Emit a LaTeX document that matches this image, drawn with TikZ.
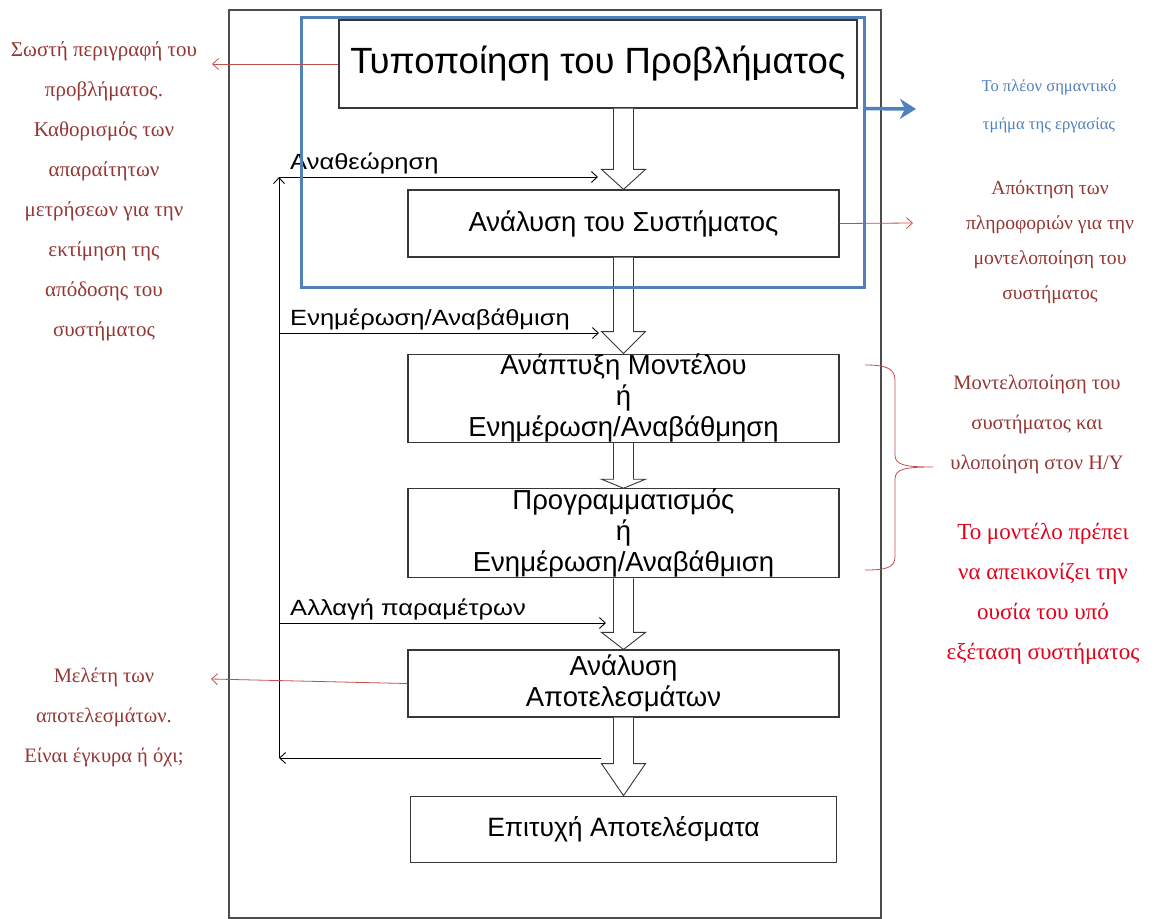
\documentclass[tikz,border=0pt]{standalone}
\usepackage{fontspec}
\setmainfont{Liberation Serif}
\setsansfont{Liberation Sans}
\usetikzlibrary{calc, positioning, arrows.meta}

\definecolor{noteRed}{RGB}{148,54,52}
\definecolor{noteLine}{RGB}{192,80,77}
\definecolor{noteBlue}{RGB}{79,129,189}
\definecolor{keyRed}{RGB}{226,0,26}
\definecolor{boxGray}{RGB}{55,55,55}

\begin{document}
\begin{tikzpicture}[
  x=1pt, y=-1pt,
  >={Straight Barb[length=6pt,width=11pt]},
  node distance=20pt
]
\tikzstyle{stage}=[draw=boxGray, line width=1.2pt, fill=white, inner sep=0pt, align=center, minimum width=431pt, font=\sffamily\fontsize{27.5}{31}\selectfont]
\tikzstyle{note}=[align=center, inner sep=0pt, text=noteRed, font=\rmfamily\fontsize{21}{40}\selectfont]
\tikzstyle{loopline}=[draw=black, line width=0.9pt]
\tikzstyle{pointer}=[draw=noteLine, line width=0.8pt, ->]
\tikzstyle{looplabel}=[anchor=south west, inner sep=0pt, xscale=1.16, font=\sffamily\fontsize{22}{24}\selectfont]
\tikzset{hollow/.style={draw=boxGray, fill=white, line width=0.9pt, to path={
  let \p1=(\tikztostart), \p2=(\tikztotarget) in
  (\x1-10pt,\y1) -- (\x1-10pt,\y2+#1) -- (\x1-22pt,\y2+#1) -- (\x2,\y2)
  -- (\x1+22pt,\y2+#1) -- (\x1+10pt,\y2+#1) -- (\x1+10pt,\y1)}},
  hollow/.default=20pt}

\useasboundingbox (0,0) rectangle (1163,919);

% ================= PAGE FRAME =================
\draw[draw=gray!60!black, line width=1.3pt] (229,10) rectangle (881,918);

% ================= STAGES =================
\node[stage, minimum width=518pt, minimum height=88pt, font=\sffamily\fontsize{36.5}{40}\selectfont] (S0) at (598,64) {Τυποποίηση του Προβλήματος};
\node[stage, minimum height=67pt] (S1) at (623.5,223.5) {Ανάλυση του Συστήματος};
\node[stage, minimum height=88pt] (S2) [below=96pt of S1] {Ανάπτυξη Μοντέλου\\ή\\Ενημέρωση/Αναβάθμηση};
\node[stage, minimum height=89pt] (S3) [below=45pt of S2] {Προγραμματισμός\\ή\\Ενημέρωση/Αναβάθμιση};
\node[stage, minimum height=67pt] (S4) [below=71pt of S3] {Ανάλυση\\Αποτελεσμάτων};
\node[stage, minimum width=426pt, minimum height=66pt, font=\sffamily\fontsize{26.5}{30}\selectfont] (S5) [below=78pt of S4] {Επιτυχή Αποτελέσματα};

% ===== Hollow flow arrows =====
\draw[hollow] (S1.north |- S0.south) to (S1.north);
\draw[hollow=22pt] (S1.south) to (S2.north);
\draw[hollow=9pt] (S2.south) to (S3.north);
\draw[hollow=17pt] (S3.south) to (S4.north);
\draw[hollow=32pt] (S4.south) to (S5.north);

% ===== Feedback loop =====
\coordinate (Ltop) at (279,177);
\coordinate (Lbot) at (279,758);
\coordinate (F1) at (598,177);
\coordinate (F2) at (279,333);
\coordinate (F2e) at (599,333);
\coordinate (F3) at (279,623);
\coordinate (F3e) at (606,623);
\coordinate (F4) at (601,758);

\draw[loopline, ->] (F4) -- (Lbot);
\draw[loopline, ->] (Lbot) -- (Ltop);
\draw[loopline, ->] (Ltop) -- (F1);
\draw[loopline, ->] (F2) -- (F2e);
\draw[loopline, ->] (F3) -- (F3e);

\node[looplabel] (T1) at (290,174) {Αναθεώρηση};
\node[looplabel] (T2) at (290,330) {Ενημέρωση/Αναβάθμιση};
\node[looplabel] (T3) at (290,620) {Αλλαγή παραμέτρων};

% ================= FOCUS FRAME =================
\node[draw=noteBlue, line width=3pt, minimum width=563pt, minimum height=270pt, inner sep=0pt] (focus) at (582.5,152) {};
\coordinate (blueTip) at (916,109);
\draw[noteBlue, line width=3.5pt, -{Stealth[length=16pt,width=20pt,inset=5pt]}] (focus.east |- S0.south) -- (blueTip);

% ================= NOTES =================
\coordinate (P0) at (212,64);
\coordinate (P1) at (913,223);
\coordinate (P4) at (211,679);
\draw[pointer] (S0.west) -- (P0);
\draw[pointer] (S1.east) -- (P1);
\draw[pointer] (S4.west) -- (P4);

\node[note] (N0) at (104,191) {Σωστή περιγραφή του\\προβλήματος.\\Καθορισμός των\\απαραίτητων\\μετρήσεων για την\\εκτίμηση της\\απόδοσης του\\συστήματος};
\node[note, text=noteBlue, font=\rmfamily\fontsize{16.6}{38}\selectfont] (N1) at (1049,106) {Το πλέον σημαντικό\\τμήμα της εργασίας};
\node[note, font=\rmfamily\fontsize{19.6}{35}\selectfont] (N2) at (1050,242) {Απόκτηση των\\πληροφοριών για την\\μοντελοποίηση του\\συστήματος};
\node[note, font=\rmfamily\fontsize{20.5}{40}\selectfont] (N3) at (1037,424) {Μοντελοποίηση του\\συστήματος και\\υλοποίηση στον H/Y};
\node[note, text=keyRed, font=\rmfamily\fontsize{23}{40}\selectfont] (N4) at (1043,594) {Το μοντέλο πρέπει\\να απεικονίζει την\\ουσία του υπό\\εξέταση συστήματος};
\node[note, font=\rmfamily\fontsize{20.5}{40}\selectfont] (N5) at (104,717) {Μελέτη των\\αποτελεσμάτων.\\Είναι έγκυρα ή όχι;};

% ===== Brace =====
\coordinate (Btop) at (865,365);
\coordinate (Bbot) at (865,570);
\coordinate (Btip) at (933,467);
\draw[noteLine, line width=0.8pt] (Btop) .. controls (885,365) and (895,368) .. (895,380) -- (895,455)
  .. controls (895,465) and (905,467) .. (Btip) .. controls (905,467) and (895,469) .. (895,479)
  -- (895,557) .. controls (895,568) and (885,570) .. (Bbot);
\end{tikzpicture}
\end{document}
